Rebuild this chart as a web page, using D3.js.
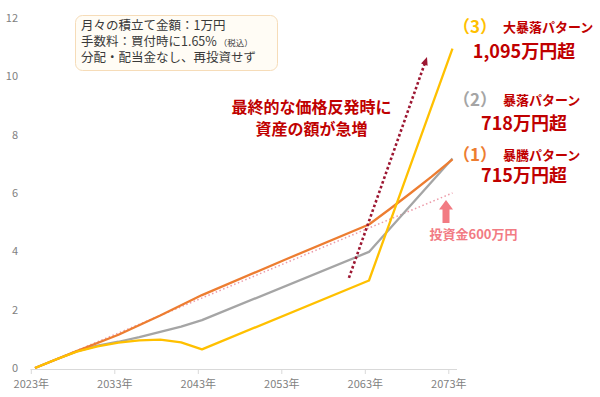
<!DOCTYPE html>
<html>
<head>
<meta charset="utf-8">
<script src="https://cdn.jsdelivr.net/npm/d3@7"></script>
<style>
  body { margin: 0; background: #fff; }
  svg { display: block; font-family: "Noto Sans CJK JP", "Noto Sans", sans-serif; }
</style>
</head>
<body>
<div id="chart"></div>
<script>
// Values in 100万円 units, x as decimal year
const yTicks = [0, 2, 4, 6, 8, 10, 12];
const xTicks = [2023, 2033, 2043, 2053, 2063, 2073];

// (1) 暴騰パターン
const pattern1 = [[2023.5, 0], [2028.5, 0.58], [2033.5, 1.14], [2038.5, 1.8], [2043.5, 2.5],
  [2053.5, 3.72], [2063.5, 4.92], [2066, 5.45], [2068.5, 6.0], [2071, 6.56], [2073.5, 7.15]];
// (2) 暴落パターン
const pattern2 = [[2023.5, 0], [2026, 0.29], [2028.5, 0.57], [2031, 0.77], [2033.5, 0.9],
  [2036, 1.06], [2038.5, 1.24], [2041, 1.42], [2043.5, 1.64], [2063.5, 3.98], [2073.5, 7.18]];
// (3) 大暴落パターン
const pattern3 = [[2023.5, 0], [2026, 0.29], [2028.5, 0.56], [2031, 0.74], [2033.5, 0.87],
  [2036, 0.95], [2038.5, 0.97], [2041, 0.88], [2043.5, 0.64], [2063.5, 3.0], [2073.5, 10.95]];
// 投資金 (cumulative)
const invested = [[2023.5, 0], [2073.5, 6.0]];

const width = 600, height = 397;

const svg = d3.select("#chart")
  .append("svg")
    .attr("width", width)
    .attr("height", height);

const xScale = d3.scaleLinear().domain([2023, 2073]).range([30.8, 448.3]);
const yScale = d3.scaleLinear().domain([0, 12]).range([368, 18]);

// y labels (no axis line)
svg.append("g")
  .selectAll("text")
  .data(yTicks)
  .join("text")
    .attr("x", 18)
    .attr("y", d => yScale(d))
    .attr("dy", "0.35em")
    .attr("text-anchor", "end")
    .attr("fill", "#7f7f7f")
    .style("font-size", "11px")
    .text(d => d);

// x axis
const xAxis = svg.append("g")
  .attr("transform", `translate(0, ${yScale(0) + 1})`)
  .call(d3.axisBottom(xScale)
    .tickValues(xTicks)
    .tickSize(5)
    .tickPadding(6)
    .tickFormat(d => d + "年"));
xAxis.select(".domain").attr("d", "M30.5,0.5H457").attr("stroke", "#d9d9d9");
xAxis.selectAll(".tick line").attr("stroke", "#d9d9d9");
xAxis.selectAll(".tick text")
  .attr("fill", "#7f7f7f")
  .style("font-size", "11px")
  .style("font-family", "'Noto Sans CJK JP', sans-serif");

const line = d3.line()
  .x(d => xScale(d[0]))
  .y(d => yScale(d[1]));

// investment dotted line
svg.append("path")
  .datum(invested)
  .attr("d", line)
  .attr("fill", "none")
  .attr("stroke", "#ec9aa8")
  .attr("stroke-width", 1.5)
  .attr("stroke-dasharray", "1.5,2.5");

const series = [
  {data: pattern2, color: "#a5a5a5"},
  {data: pattern1, color: "#ed7d31"},
  {data: pattern3, color: "#ffc000"}
];

svg.append("g")
  .selectAll("path")
  .data(series)
  .join("path")
    .attr("d", d => line(d.data))
    .attr("fill", "none")
    .attr("stroke", d => d.color)
    .attr("stroke-width", 2.3)
    .attr("stroke-linejoin", "round");

// dotted arrow: 急増
const arrowFrom = [2061.1, 3.09], arrowTo = [2070.45, 10.66];
const ax1 = xScale(arrowFrom[0]), ay1 = yScale(arrowFrom[1]);
const ax2 = xScale(arrowTo[0]), ay2 = yScale(arrowTo[1]);
const ang = Math.atan2(ay2 - ay1, ax2 - ax1);
svg.append("line")
  .attr("x1", ax1).attr("y1", ay1)
  .attr("x2", ax2 - 6 * Math.cos(ang)).attr("y2", ay2 - 6 * Math.sin(ang))
  .attr("stroke", "#9c1631")
  .attr("stroke-width", 2.6)
  .attr("stroke-dasharray", "2.6,2.4");
const head = [[0, 0], [-8, -3.5], [-8, 3.5]].map(([u, v]) => [
  ax2 + u * Math.cos(ang) - v * Math.sin(ang),
  ay2 + u * Math.sin(ang) + v * Math.cos(ang)
]);
svg.append("path")
  .attr("d", "M" + head.join("L") + "Z")
  .attr("fill", "#9c1631");

// info box
svg.append("rect")
  .attr("x", 75.5).attr("y", 15.5)
  .attr("width", 202).attr("height", 55)
  .attr("rx", 7)
  .attr("fill", "#fffcf5")
  .attr("stroke", "#f6dcb8");

const boxText = svg.append("g")
  .attr("fill", "#3a3a3a")
  .style("font-size", "12.5px");
boxText.append("text").attr("x", 81).attr("y", 26).attr("dy", "0.35em")
  .text("月々の積立て金額：1万円");
const t2 = boxText.append("text").attr("x", 81).attr("y", 42).attr("dy", "0.35em")
  .text("手数料：買付時に1.65%");
t2.append("tspan").style("font-size", "8.5px").attr("dx", 2).text("（税込）");
boxText.append("text").attr("x", 81).attr("y", 58).attr("dy", "0.35em")
  .text("分配・配当金なし、再投資せず");

// red annotation
const note = svg.append("g")
  .attr("fill", "#c00000")
  .attr("text-anchor", "middle")
  .style("font-size", "16px")
  .style("font-weight", "bold");
note.append("text").attr("x", 311.5).attr("y", 107).attr("dy", "0.35em").text("最終的な価格反発時に");
note.append("text").attr("x", 311.5).attr("y", 129).attr("dy", "0.35em").text("資産の額が急増");

// right labels
const labels = [
  {num: "（3）", color: "#ffc000", name: "大暴落パターン", value: "1,095万円超", y: 27.5, vy: 51.5},
  {num: "（2）", color: "#a5a5a5", name: "暴落パターン", value: "718万円超", y: 100, vy: 124},
  {num: "（1）", color: "#ed7d31", name: "暴騰パターン", value: "715万円超", y: 155, vy: 176}
];
const lab = svg.append("g").style("font-weight", "bold");
labels.forEach(l => {
  lab.append("text")
    .attr("x", 475).attr("y", l.y).attr("dy", "0.35em")
    .attr("text-anchor", "middle")
    .attr("fill", l.color)
    .style("font-size", "17px")
    .text(l.num);
  lab.append("text")
    .attr("x", 503).attr("y", l.y).attr("dy", "0.35em")
    .attr("fill", "#c00000")
    .style("font-size", "13px")
    .text(l.name);
  lab.append("text")
    .attr("x", 524).attr("y", l.vy).attr("dy", "0.35em")
    .attr("text-anchor", "middle")
    .attr("fill", "#c00000")
    .style("font-size", "18px")
    .text(l.value);
});

// pink arrow + 投資金
svg.append("path")
  .attr("d", "M446,200L453,209.5L449.5,209.5L449.5,223L442.5,223L442.5,209.5L439,209.5Z")
  .attr("fill", "#f27b83");
svg.append("text")
  .attr("x", 473.5).attr("y", 234.5).attr("dy", "0.35em")
  .attr("text-anchor", "middle")
  .attr("fill", "#f27b83")
  .style("font-size", "13px")
  .style("font-weight", "bold")
  .text("投資金600万円");
</script>
</body>
</html>
